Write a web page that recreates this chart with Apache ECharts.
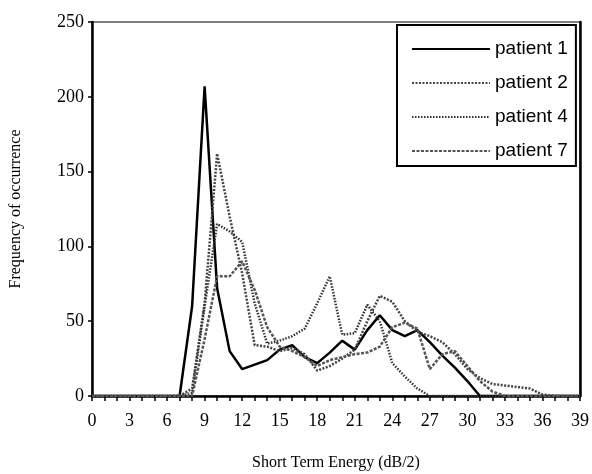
<!DOCTYPE html>
<html>
<head>
<meta charset="utf-8">
<script src="https://cdn.jsdelivr.net/npm/echarts@6/dist/echarts.min.js"></script>
<style>
  html, body { margin: 0; padding: 0; background: #fff; }
</style>
</head>
<body>
<div id="main" style="width:592px;height:474px;"></div>
<script>
  // x positions: short term energy (dB/2)
  var energy = [0, 1, 2, 3, 4, 5, 6, 7, 8, 9, 10, 11, 12, 13, 14, 15, 16, 17, 18, 19,
                20, 21, 22, 23, 24, 25, 26, 27, 28, 29, 30, 31, 32, 33, 34, 35, 36, 37, 38, 39];
  var patient1 = [0, 0, 0, 0, 0, 0, 0, 0, 60, 207, 72, 30, 18, 21, 24, 31, 34, 26, 22, 29,
                  37, 31, 44, 54, 44, 40, 44, 36, 27, 19, 10, 0, 0, 0, 0, 0, 0, 0, 0, 0];
  var patient2 = [0, 0, 0, 0, 0, 0, 0, 0, 5, 62, 162, 120, 82, 34, 33, 30, 32, 28, 17, 20,
                  25, 31, 50, 67, 63, 50, 43, 40, 36, 28, 18, 12, 8, 7, 6, 5, 1, 0, 0, 0];
  var patient4 = [0, 0, 0, 0, 0, 0, 0, 0, 2, 60, 115, 110, 103, 62, 35, 37, 40, 45, 62, 80,
                  41, 42, 61, 50, 22, 13, 5, 0, 0, 0, 0, 0, 0, 0, 0, 0, 0, 0, 0, 0];
  var patient7 = [0, 0, 0, 0, 0, 0, 0, 0, 0, 38, 80, 80, 90, 71, 46, 33, 30, 26, 20, 24,
                  26, 28, 29, 33, 46, 49, 45, 18, 28, 30, 20, 10, 3, 0, 0, 0, 0, 0, 0, 0];
  var yTicks = [0, 50, 100, 150, 200, 250];

  function pairs(vals) {
    var arr = [];
    for (var i = 0; i < energy.length; i++) {
      arr.push([energy[i], vals[i]]);
    }
    return arr;
  }

  var chart = echarts.init(document.getElementById('main'));
  var serif = '"Liberation Serif", "DejaVu Serif", serif';

  chart.setOption({
    animation: false,
    backgroundColor: '#fff',
    grid: {
      left: 92, right: 12, top: 22, bottom: 78,
      outerBoundsMode: 'none', containLabel: false,
      show: true, borderColor: '#000', borderWidth: 1
    },
    legend: {
      left: 397, top: 25,
      orient: 'vertical',
      itemWidth: 78, itemHeight: 14, itemGap: 14,
      padding: [14, 8, 5, 14],
      borderColor: '#000', borderWidth: 2,
      backgroundColor: '#fff',
      itemStyle: { opacity: 0 },   // hide the dot, keep the line sample
      textStyle: { fontFamily: '"Liberation Sans", Arial, sans-serif', fontSize: 19, color: '#000', lineHeight: 20 },
      data: ['patient 1', 'patient 2', 'patient 4', 'patient 7']
    },
    xAxis: {
      type: 'value',
      min: 0, max: 39, interval: 1,
      name: 'Short Term Energy (dB/2)',
      nameLocation: 'middle', nameGap: 59,
      nameTextStyle: { fontFamily: serif, fontSize: 16, color: '#000' },
      axisLine: { onZero: false, lineStyle: { color: '#000', width: 2.5 } },
      axisTick: { inside: false, length: 5, lineStyle: { color: '#000', width: 1.5 } },
      axisLabel: {
        margin: 16, fontFamily: serif, fontSize: 18, color: '#000',
        formatter: function (v) { return v % 3 === 0 ? String(v) : ''; }
      },
      splitLine: { show: false }
    },
    yAxis: [{
      type: 'value',
      min: 0, max: yTicks[yTicks.length - 1], interval: 50,
      name: 'Frequency of occurrence',
      nameLocation: 'middle', nameGap: 68,
      nameTextStyle: { fontFamily: serif, fontSize: 16, color: '#000' },
      axisLine: { show: true, lineStyle: { color: '#000', width: 2.5 } },
      axisTick: { show: true, length: 4, lineStyle: { color: '#000', width: 1.5 } },
      axisLabel: { margin: 8, fontFamily: serif, fontSize: 18, color: '#000' },
      splitLine: { show: false }
    }, {
      // right frame edge
      type: 'value', position: 'right',
      min: 0, max: 250,
      axisLine: { show: true, lineStyle: { color: '#000', width: 2.5 } },
      axisTick: { show: false }, axisLabel: { show: false }, splitLine: { show: false }
    }],
    series: [
      {
        name: 'patient 1', type: 'line', symbol: 'none',
        lineStyle: { color: '#000', width: 2.5, type: 'solid' },
        data: pairs(patient1)
      },
      {
        name: 'patient 2', type: 'line', symbol: 'none',
        lineStyle: { color: '#444', width: 2.5, type: [2, 1.5] },
        data: pairs(patient2)
      },
      {
        name: 'patient 4', type: 'line', symbol: 'none',
        lineStyle: { color: '#333', width: 2.5, type: [1.5, 1.5] },
        data: pairs(patient4)
      },
      {
        name: 'patient 7', type: 'line', symbol: 'none',
        lineStyle: { color: '#555', width: 2.5, type: [3, 1.5] },
        data: pairs(patient7)
      }
    ]
  });
</script>
</body>
</html>
